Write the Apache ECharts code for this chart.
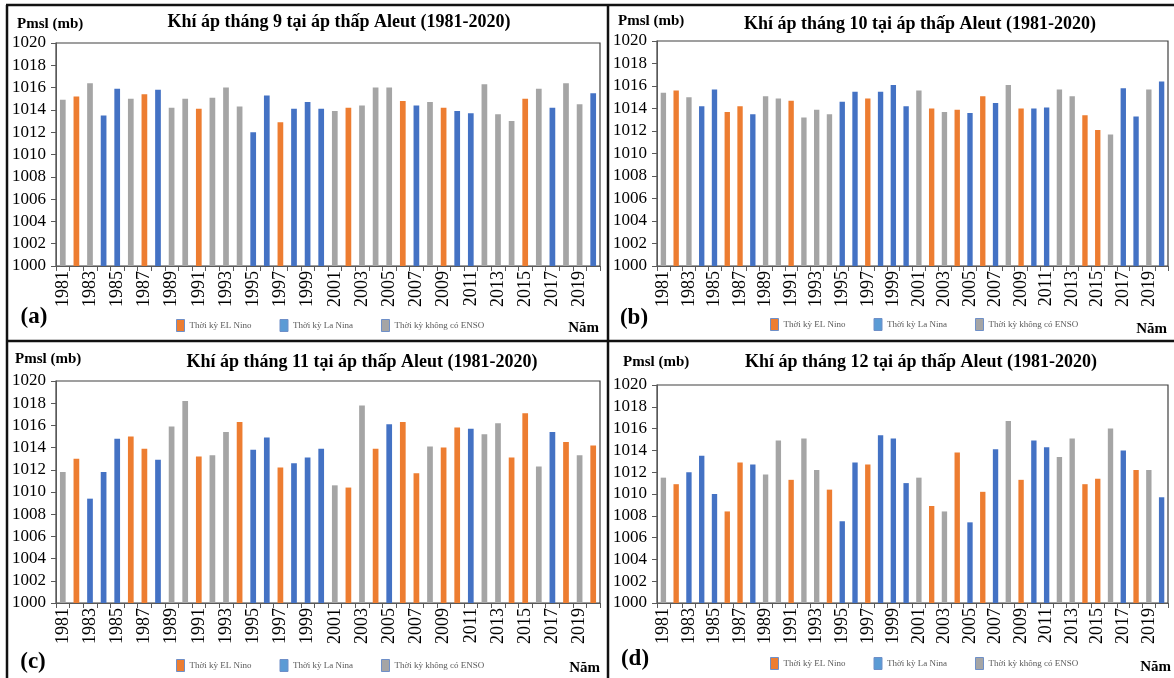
<!DOCTYPE html>
<html>
<head>
<meta charset="utf-8">
<title>Khí áp tại áp thấp Aleut (1981-2020)</title>
<script src="https://cdn.jsdelivr.net/npm/echarts@6/dist/echarts.min.js"></script>
<style>
  html, body { margin: 0; padding: 0; background: #fff; }
  #chart { width: 1174px; height: 678px; }
</style>
</head>
<body>
<div id="chart"></div>
<script>
// Years on the category axis
const years = [];
for (let y = 1981; y <= 2020; y++) years.push(String(y));

// Mean sea-level pressure (mb), one value per year
const pmslSep = [1014.9,1015.2,1016.4,1013.5,1015.9,1015.0,1015.4,1015.8,1014.2,1015.0,
                 1014.1,1015.1,1016.0,1014.3,1012.0,1015.3,1012.9,1014.1,1014.7,1014.1,
                 1013.9,1014.2,1014.4,1016.0,1016.0,1014.8,1014.4,1014.7,1014.2,1013.9,
                 1013.7,1016.3,1013.6,1013.0,1015.0,1015.9,1014.2,1016.4,1014.5,1015.5];
const pmslOct = [1015.4,1015.6,1015.0,1014.2,1015.7,1013.7,1014.2,1013.5,1015.1,1014.9,
                 1014.7,1013.2,1013.9,1013.5,1014.6,1015.5,1014.9,1015.5,1016.1,1014.2,
                 1015.6,1014.0,1013.7,1013.9,1013.6,1015.1,1014.5,1016.1,1014.0,1014.0,
                 1014.1,1015.7,1015.1,1013.4,1012.1,1011.7,1015.8,1013.3,1015.7,1016.4];
const pmslNov = [1011.8,1013.0,1009.4,1011.8,1014.8,1015.0,1013.9,1012.9,1015.9,1018.2,
                 1013.2,1013.3,1015.4,1016.3,1013.8,1014.9,1012.2,1012.6,1013.1,1013.9,
                 1010.6,1010.4,1017.8,1013.9,1016.1,1016.3,1011.7,1014.1,1014.0,1015.8,
                 1015.7,1015.2,1016.2,1013.1,1017.1,1012.3,1015.4,1014.5,1013.3,1014.2];
const pmslDec = [1011.5,1010.9,1012.0,1013.5,1010.0,1008.4,1012.9,1012.7,1011.8,1014.9,
                 1011.3,1015.1,1012.2,1010.4,1007.5,1012.9,1012.7,1015.4,1015.1,1011.0,
                 1011.5,1008.9,1008.4,1013.8,1007.4,1010.2,1014.1,1016.7,1011.3,1014.9,
                 1014.3,1013.4,1015.1,1010.9,1011.4,1016.0,1014.0,1012.2,1012.2,1009.7];

// ENSO phase of each year: E = El Nino, L = La Nina, N = no ENSO
const phaseSep = 'NENLLNELNNENNNLLELLLNENNNELNELLNNNENLNNL'.split('');
const phaseOct = 'NENLLEELNNENNNLLELLLNENELELNELLNNEENLLNL'.split('');
const phaseNov = 'NELLLEELNNENNELLELLLNENELEENEELNNEENLENE'.split('');
const phaseDec = 'NELLLEELNNENNELLELLLNENELELNELLNNEENLENL'.split('');

const panelTitles = [
  'Khí áp tháng 9 tại áp thấp Aleut (1981-2020)',
  'Khí áp tháng 10 tại áp thấp Aleut (1981-2020)',
  'Khí áp tháng 11 tại áp thấp Aleut (1981-2020)',
  'Khí áp tháng 12 tại áp thấp Aleut (1981-2020)'
];
const panelTags = ['(a)', '(b)', '(c)', '(d)'];
const phaseNames = { E: 'Thời kỳ EL Nino', L: 'Thời kỳ La Nina', N: 'Thời kỳ không có ENSO' };

const panels = [
  { values: pmslSep, phases: phaseSep },
  { values: pmslOct, phases: phaseOct },
  { values: pmslNov, phases: phaseNov },
  { values: pmslDec, phases: phaseDec }
];

// ---- presentation ----
const SERIF = '"Liberation Serif", "Times New Roman", serif';
const barColors = { E: '#ED7D31', L: '#4472C4', N: '#A5A5A5' };
const legendColors = { E: '#ED7D31', L: '#5B9BD5', N: '#A5A5A5' };

const layout = [
  { grid: { left: 56,  top: 43,  width: 544, height: 223 }, title: [339, 22],  unit: [17, 24],   tag: [34, 317],  nam: [599, 328],  legend: [176, 319] },
  { grid: { left: 657, top: 41,  width: 511, height: 225 }, title: [920, 24],  unit: [618, 21],  tag: [634, 318], nam: [1167, 329], legend: [770, 318] },
  { grid: { left: 56,  top: 381, width: 544, height: 222 }, title: [362, 362], unit: [15, 359],  tag: [33, 662],  nam: [600, 668],  legend: [176, 659] },
  { grid: { left: 657, top: 385, width: 511, height: 218 }, title: [921, 362], unit: [623, 362], tag: [635, 659], nam: [1171, 667], legend: [770, 657] }
];

const grids = [], xAxes = [], yAxes = [], series = [], legends = [], graphics = [];

panels.forEach((p, k) => {
  const L = layout[k];
  grids.push(Object.assign({ show: true, borderColor: '#404040', borderWidth: 1.2, containLabel: false }, L.grid));

  xAxes.push({
    type: 'category', gridIndex: k, data: years, boundaryGap: true,
    axisLine: { lineStyle: { color: '#595959', width: 1 } },
    axisTick: { show: true, interval: 0, length: 5, lineStyle: { color: '#595959' } },
    axisLabel: { interval: 1, rotate: 90, margin: 5, color: '#000', fontFamily: SERIF, fontSize: 18 },
    splitLine: { show: false }
  });

  yAxes.push({
    type: 'value', gridIndex: k, min: 1000, max: 1020, interval: 2,
    axisLine: { show: true, lineStyle: { color: '#595959', width: 1 } },
    axisTick: { show: true, length: 5, lineStyle: { color: '#595959' } },
    axisLabel: { margin: 10, color: '#000', fontFamily: SERIF, fontSize: 17, formatter: v => String(v) },
    splitLine: { show: false }
  });

  ['E', 'L', 'N'].forEach(code => {
    series.push({
      type: 'bar', name: phaseNames[code], xAxisIndex: k, yAxisIndex: k,
      data: p.values.map((v, i) => (p.phases[i] === code ? v : '-')),
      barWidth: '42%', barGap: '-100%',
      itemStyle: { color: barColors[code] },
      emphasis: { disabled: true },
      animation: false
    });
  });

  legends.push({
    left: L.legend[0], top: L.legend[1], padding: 0, orient: 'horizontal',
    itemWidth: 8, itemHeight: 12, itemGap: 28,
    selectedMode: false,
    textStyle: { fontFamily: SERIF, fontSize: 9, color: '#595959' },
    data: ['E', 'L', 'N'].map(code => ({
      name: phaseNames[code], icon: 'rect',
      itemStyle: { color: legendColors[code], borderColor: '#6E8FC8', borderWidth: 1 }
    }))
  });

  graphics.push(
    { type: 'text', x: L.title[0], y: L.title[1],
      style: { text: panelTitles[k], font: 'bold 18px ' + SERIF, fill: '#000', align: 'center', verticalAlign: 'middle' } },
    { type: 'text', x: L.unit[0], y: L.unit[1],
      style: { text: 'Pmsl (mb)', font: 'bold 15px ' + SERIF, fill: '#000', align: 'left', verticalAlign: 'middle' } },
    { type: 'text', x: L.tag[0], y: L.tag[1],
      style: { text: panelTags[k], font: 'bold 23px ' + SERIF, fill: '#000', align: 'center', verticalAlign: 'middle' } },
    { type: 'text', x: L.nam[0], y: L.nam[1],
      style: { text: 'Năm', font: 'bold 15px ' + SERIF, fill: '#000', align: 'right', verticalAlign: 'middle' } }
  );
});

// Frame lines separating the four panels
[
  [6, 5, 1174, 5],
  [7, 5, 7, 678],
  [608, 5, 608, 678],
  [7, 341, 1174, 341]
].forEach(s => graphics.push({
  type: 'line', shape: { x1: s[0], y1: s[1], x2: s[2], y2: s[3] },
  style: { stroke: '#111', lineWidth: 2.5 }, z: 100
}));

const chart = echarts.init(document.getElementById('chart'), null, { renderer: 'canvas' });
chart.setOption({
  backgroundColor: '#fff',
  animation: false,
  grid: grids,
  xAxis: xAxes,
  yAxis: yAxes,
  legend: legends,
  series: series,
  graphic: graphics
});
</script>
</body>
</html>
